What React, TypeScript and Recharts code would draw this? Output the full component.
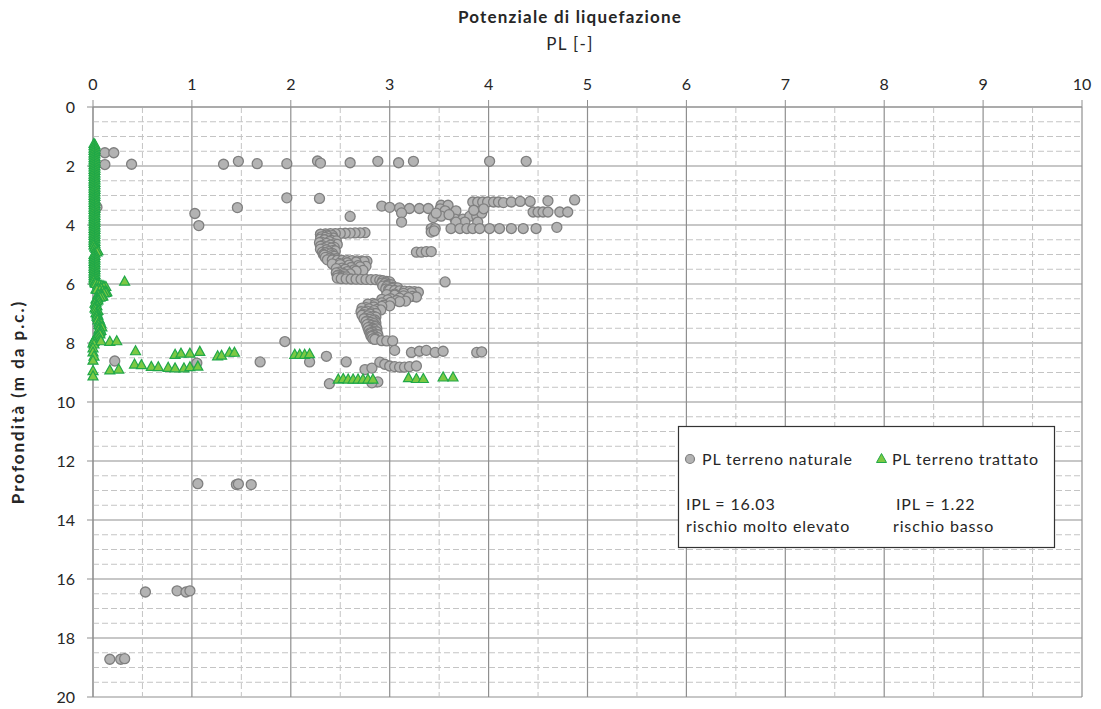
import { ScatterChart, Scatter, XAxis, YAxis, CartesianGrid, ReferenceLine } from 'recharts';

// axis ticks (major = solid grid, minor = dashed grid)
const xTicks = [0, 1, 2, 3, 4, 5, 6, 7, 8, 9, 10];
const yTicks = [0, 2, 4, 6, 8, 10, 12, 14, 16, 18, 20];
const xMinor = [0.5, 1.5, 2.5, 3.5, 4.5, 5.5, 6.5, 7.5, 8.5, 9.5];
const yMinor = [
  0.5, 1, 1.5, 2.5, 3, 3.5, 4.5, 5, 5.5, 6.5, 7, 7.5, 8.5, 9, 9.5, 10.5, 11, 11.5,
  12.5, 13, 13.5, 14.5, 15, 15.5, 16.5, 17, 17.5, 18.5, 19, 19.5,
];

// PL terreno naturale, scattered points: [PL, depth]
const naturale: [number, number][] = [
  [0.12, 1.55], [0.21, 1.55], [0.12, 1.95], [0.39, 1.94], [1.32, 1.94], [1.47, 1.84],
  [1.66, 1.92], [1.96, 1.92], [2.27, 1.83], [2.3, 1.9], [2.6, 1.89], [2.88, 1.84],
  [3.09, 1.89], [3.24, 1.84], [4.01, 1.84], [4.38, 1.84],
  [0.04, 3.4], [1.96, 3.08], [2.29, 3.1], [1.46, 3.41], [1.03, 3.61], [1.07, 4.02], [2.6, 3.71],
  [3.84, 3.22], [3.89, 3.22], [3.94, 3.22], [3.99, 3.22], [4.05, 3.22], [4.1, 3.22],
  [4.15, 3.24], [4.23, 3.22], [4.32, 3.2], [4.42, 3.2], [4.6, 3.18], [4.87, 3.15],
  [2.92, 3.36], [3.0, 3.4], [3.1, 3.42], [3.2, 3.44], [3.3, 3.44], [3.39, 3.44],
  [3.52, 3.33], [3.59, 3.33], [3.12, 3.59], [3.12, 3.9],
  [4.45, 3.56], [4.5, 3.56], [4.55, 3.56], [4.6, 3.56], [4.72, 3.56], [4.8, 3.56],
  [3.51, 3.45], [3.56, 3.52], [3.67, 3.52], [3.44, 3.75], [3.52, 3.7], [3.66, 3.8],
  [3.74, 3.8], [3.81, 3.7], [3.88, 3.7], [3.93, 3.6], [3.89, 3.9], [3.76, 3.9],
  [3.67, 3.9], [3.6, 3.65], [3.47, 3.6], [3.85, 3.5], [3.95, 3.45],
  [3.42, 4.12], [3.46, 4.12], [3.62, 4.12], [3.71, 4.12], [3.78, 4.12], [3.84, 4.12],
  [3.91, 4.12], [4.01, 4.12], [4.11, 4.12], [4.23, 4.12], [4.35, 4.12], [4.48, 4.12],
  [4.69, 4.08], [3.42, 4.24], [3.45, 4.2],
  [3.27, 4.92], [3.32, 4.92], [3.37, 4.9], [3.42, 4.9], [3.56, 5.93],
];

// PL terreno naturale, continuous S-shaped profile 4.3 - 7.9 m: [PL, depth]
const naturaleProfilo: [number, number][] = [
  [2.75, 4.26], [2.7, 4.265], [2.65, 4.27], [2.6, 4.275], [2.55, 4.28], [2.5, 4.285],
  [2.45, 4.29], [2.4, 4.295], [2.35, 4.3], [2.3, 4.31],
  [2.3, 4.32], [2.36, 4.34], [2.42, 4.36], [2.37, 4.38], [2.31, 4.4], [2.35, 4.42],
  [2.43, 4.44], [2.38, 4.46], [2.3, 4.48], [2.34, 4.5], [2.41, 4.52], [2.46, 4.54],
  [2.39, 4.56], [2.31, 4.58], [2.29, 4.6], [2.36, 4.62], [2.44, 4.64], [2.47, 4.66],
  [2.4, 4.68], [2.32, 4.7], [2.3, 4.72], [2.37, 4.74], [2.44, 4.76], [2.41, 4.78],
  [2.33, 4.8], [2.3, 4.82], [2.36, 4.84], [2.43, 4.86], [2.45, 4.88], [2.38, 4.9],
  [2.32, 4.92], [2.35, 4.94], [2.42, 4.96], [2.4, 4.98], [2.33, 5.0], [2.34, 5.02],
  [2.41, 5.04], [2.44, 5.06], [2.38, 5.08], [2.35, 5.1], [2.4, 5.12], [2.46, 5.14],
  [2.42, 5.16], [2.37, 5.18],
  [2.42, 5.19], [2.47, 5.195], [2.52, 5.2], [2.57, 5.205], [2.62, 5.21], [2.67, 5.215],
  [2.72, 5.22], [2.77, 5.225],
  [2.74, 5.24], [2.66, 5.26], [2.57, 5.28], [2.49, 5.3], [2.42, 5.32], [2.5, 5.34],
  [2.59, 5.36], [2.68, 5.38], [2.76, 5.4], [2.7, 5.42], [2.61, 5.44], [2.52, 5.46],
  [2.46, 5.48], [2.55, 5.5], [2.64, 5.52], [2.73, 5.54], [2.66, 5.56], [2.57, 5.58],
  [2.49, 5.6], [2.46, 5.62], [2.53, 5.64], [2.6, 5.66], [2.54, 5.68], [2.48, 5.7],
  [2.47, 5.72], [2.52, 5.74], [2.56, 5.76], [2.5, 5.78], [2.47, 5.8],
  [2.51, 5.82], [2.56, 5.825], [2.61, 5.83], [2.66, 5.835], [2.71, 5.84], [2.76, 5.845],
  [2.81, 5.85], [2.86, 5.855], [2.9, 5.87],
  [2.93, 5.89], [2.97, 5.91], [3.0, 5.93], [2.96, 5.95], [2.92, 5.97], [2.95, 5.99],
  [2.99, 6.01], [3.02, 6.03], [2.97, 6.05], [2.93, 6.07], [2.97, 6.09], [3.03, 6.11],
  [3.08, 6.13], [3.02, 6.15], [2.96, 6.17], [2.99, 6.19],
  [3.0, 6.21], [3.05, 6.22], [3.1, 6.23], [3.15, 6.24], [3.2, 6.25], [3.25, 6.26], [3.29, 6.28],
  [3.22, 6.3], [3.14, 6.32], [3.05, 6.34], [2.97, 6.36], [3.05, 6.38], [3.14, 6.4],
  [3.23, 6.42], [3.27, 6.44], [3.19, 6.46], [3.1, 6.48], [3.01, 6.5], [2.92, 6.52],
  [2.98, 6.54], [3.07, 6.56], [3.16, 6.58], [3.1, 6.6], [3.01, 6.62], [2.92, 6.64],
  [2.83, 6.66], [2.78, 6.68], [2.85, 6.7], [2.94, 6.72], [3.0, 6.74], [2.92, 6.76],
  [2.84, 6.78], [2.76, 6.8], [2.72, 6.82], [2.79, 6.84], [2.87, 6.86], [2.91, 6.88],
  [2.84, 6.9], [2.77, 6.92], [2.71, 6.94], [2.75, 6.96], [2.82, 6.98],
  [2.86, 7.0], [2.8, 7.02], [2.74, 7.04], [2.72, 7.06], [2.78, 7.08], [2.84, 7.1],
  [2.86, 7.12], [2.8, 7.14], [2.75, 7.16], [2.74, 7.18], [2.8, 7.2], [2.85, 7.22],
  [2.83, 7.24], [2.77, 7.26], [2.76, 7.28], [2.81, 7.3], [2.86, 7.32], [2.84, 7.34],
  [2.79, 7.36], [2.77, 7.38], [2.82, 7.4], [2.86, 7.42], [2.85, 7.44], [2.8, 7.46],
  [2.78, 7.48], [2.83, 7.5], [2.87, 7.52], [2.84, 7.54], [2.8, 7.56], [2.79, 7.58],
  [2.84, 7.6], [2.87, 7.62], [2.83, 7.64], [2.8, 7.66], [2.81, 7.68], [2.85, 7.7],
  [2.88, 7.72], [2.84, 7.74], [2.81, 7.76], [2.82, 7.78], [2.86, 7.8], [2.88, 7.82],
  [2.85, 7.84], [2.83, 7.86], [2.85, 7.88],
  [2.92, 7.92], [2.97, 7.93], [3.03, 7.93],
];

// PL terreno naturale, below 7.9 m: [PL, depth]
const naturaleProfondo: [number, number][] = [
  [1.94, 7.95], [2.19, 8.64], [2.36, 8.45], [2.56, 8.64], [2.75, 8.9], [2.82, 8.85],
  [2.39, 9.38], [2.88, 9.32], [2.82, 9.35], [3.05, 8.25], [3.22, 8.32], [3.3, 8.28],
  [3.37, 8.25], [3.46, 8.32], [3.54, 8.28], [2.9, 8.65], [2.95, 8.72], [3.0, 8.78],
  [3.05, 8.8], [3.1, 8.82], [3.15, 8.82], [3.2, 8.8], [3.27, 8.78], [3.88, 8.32],
  [3.93, 8.3], [0.22, 8.61], [1.69, 8.64], [1.05, 8.68],
  [1.06, 12.77], [1.45, 12.8], [1.47, 12.78], [1.6, 12.8],
  [0.53, 16.44], [0.85, 16.4], [0.94, 16.44], [0.98, 16.4],
  [0.17, 18.72], [0.28, 18.72], [0.32, 18.7],
];

// PL terreno trattato, continuous profile near PL = 0: [PL, depth]
const trattatoProfilo: [number, number][] = [
  [0.01, 1.25], [0.02, 1.29], [0.01, 1.33], [0.02, 1.37], [0.01, 1.41], [0.02, 1.45],
  [0.01, 1.49], [0.02, 1.53], [0.01, 1.57], [0.02, 1.61], [0.01, 1.65], [0.02, 1.69],
  [0.01, 1.73], [0.02, 1.77], [0.01, 1.81], [0.02, 1.85], [0.01, 1.89], [0.02, 1.93],
  [0.01, 1.97], [0.02, 2.01], [0.01, 2.05], [0.02, 2.09], [0.01, 2.13], [0.02, 2.17],
  [0.01, 2.21], [0.02, 2.25], [0.01, 2.29], [0.02, 2.33], [0.01, 2.37], [0.02, 2.41],
  [0.01, 2.45], [0.02, 2.49], [0.01, 2.53], [0.02, 2.57], [0.01, 2.61], [0.02, 2.65],
  [0.01, 2.69], [0.02, 2.73], [0.01, 2.77], [0.02, 2.81], [0.01, 2.85], [0.02, 2.89],
  [0.01, 2.93], [0.02, 2.97], [0.01, 3.01], [0.02, 3.05], [0.01, 3.09], [0.02, 3.13],
  [0.01, 3.17], [0.02, 3.21], [0.01, 3.25], [0.02, 3.29], [0.01, 3.33], [0.02, 3.37],
  [0.01, 3.41], [0.02, 3.45], [0.01, 3.49], [0.02, 3.53], [0.01, 3.57], [0.02, 3.61],
  [0.01, 3.65], [0.02, 3.69], [0.01, 3.73], [0.02, 3.77], [0.01, 3.81], [0.02, 3.85],
  [0.01, 3.89], [0.02, 3.93], [0.01, 3.97], [0.02, 4.01], [0.01, 4.05], [0.02, 4.09],
  [0.01, 4.13], [0.02, 4.17], [0.01, 4.21], [0.02, 4.25], [0.01, 4.29], [0.02, 4.33],
  [0.01, 4.37], [0.02, 4.41], [0.01, 4.45], [0.02, 4.49], [0.01, 4.53], [0.02, 4.57],
  [0.01, 4.61], [0.02, 4.65], [0.01, 4.69], [0.02, 4.73], [0.02, 4.77], [0.03, 4.81],
  [0.04, 4.85], [0.05, 4.89], [0.04, 4.93], [0.02, 4.97], [0.01, 5.01], [0.02, 5.05],
  [0.01, 5.09], [0.02, 5.13], [0.01, 5.17], [0.02, 5.21], [0.01, 5.25], [0.02, 5.29],
  [0.01, 5.33], [0.02, 5.37], [0.01, 5.41], [0.02, 5.45], [0.01, 5.49], [0.02, 5.53],
  [0.01, 5.57], [0.02, 5.61], [0.01, 5.65], [0.02, 5.69], [0.01, 5.73], [0.02, 5.77],
  [0.01, 5.81], [0.02, 5.85], [0.01, 5.89], [0.02, 5.93], [0.02, 5.97],
  [0.03, 6.0], [0.05, 6.02], [0.07, 6.04], [0.09, 6.06], [0.11, 6.08], [0.13, 6.1],
  [0.11, 6.12], [0.08, 6.14], [0.05, 6.16], [0.03, 6.18], [0.04, 6.2], [0.07, 6.22],
  [0.1, 6.24], [0.12, 6.26], [0.14, 6.28], [0.13, 6.3], [0.11, 6.32], [0.08, 6.34],
  [0.05, 6.36], [0.06, 6.38], [0.08, 6.4], [0.1, 6.42], [0.09, 6.44], [0.07, 6.46],
  [0.05, 6.48], [0.04, 6.5], [0.03, 6.52], [0.04, 6.54], [0.05, 6.56],
  [0.04, 6.59], [0.03, 6.63], [0.02, 6.67], [0.03, 6.71], [0.04, 6.75], [0.03, 6.79],
  [0.02, 6.83], [0.03, 6.87], [0.05, 6.91], [0.04, 6.95], [0.03, 6.99], [0.04, 7.03],
  [0.05, 7.07], [0.04, 7.11], [0.05, 7.15], [0.06, 7.19],
  [0.05, 7.23], [0.07, 7.27], [0.06, 7.31], [0.08, 7.35], [0.06, 7.39], [0.07, 7.43],
  [0.09, 7.47], [0.07, 7.51], [0.06, 7.55], [0.08, 7.59], [0.07, 7.63], [0.06, 7.67],
  [0.07, 7.71], [0.05, 7.75], [0.04, 7.79], [0.03, 7.83], [0.02, 7.87],
  [0.01, 7.91], [0.01, 7.96], [0.0, 8.01], [0.01, 8.05],
  [0.0, 8.18], [0.0, 8.32], [0.01, 8.46], [0.0, 8.6], [0.0, 8.95], [0.0, 9.13],
];

// PL terreno trattato, scattered points: [PL, depth]
const trattato: [number, number][] = [
  [0.32, 5.92], [0.08, 7.94], [0.17, 7.96], [0.24, 7.94],
  [0.43, 8.28], [0.42, 8.73], [0.49, 8.75], [0.17, 8.93], [0.26, 8.9], [0.59, 8.81],
  [0.66, 8.82], [0.76, 8.84], [0.83, 8.86], [0.92, 8.86], [0.98, 8.82], [1.06, 8.8],
  [0.83, 8.4], [0.89, 8.36], [0.98, 8.36], [1.08, 8.3], [1.26, 8.45], [1.3, 8.43],
  [1.38, 8.33], [1.43, 8.33], [2.04, 8.4], [2.09, 8.4], [2.14, 8.4], [2.19, 8.38],
  [2.48, 9.24], [2.53, 9.22], [2.58, 9.24], [2.63, 9.24], [2.68, 9.24], [2.73, 9.24],
  [2.78, 9.24], [2.83, 9.24], [3.19, 9.19], [3.27, 9.22], [3.34, 9.22], [3.54, 9.17],
  [3.64, 9.17],
];

const FONT = 'Lato, "Open Sans", sans-serif';
const TEXT = '#262626';
const GRID = '#8f8f8f';

const toPoints = (rows: [number, number][]) => rows.map(([pl, z]) => ({ pl, z }));

const naturaleData = toPoints([...naturale, ...naturaleProfilo, ...naturaleProfondo]);
const trattatoData = toPoints([...trattatoProfilo, ...trattato]);

const Circle = (props: any) => (
  <circle cx={props.cx} cy={props.cy} r={5} fill="#b3b3b3" stroke="#7f7f7f" strokeWidth={1.3} />
);

const Triangle = (props: any) => {
  const { cx, cy } = props;
  return (
    <polygon
      points={`${cx},${cy - 5.5} ${cx - 5},${cy + 3.5} ${cx + 5},${cy + 3.5}`}
      fill="#7cc943"
      stroke="#20a848"
      strokeWidth={1.2}
    />
  );
};

export default function App() {
  return (
    <div style={{ position: 'absolute', left: 0, top: 0, width: 1101, height: 709, background: '#fff' }}>
      <ScatterChart width={1101} height={709} margin={{ top: 67, right: 19, bottom: 12, left: 33 }}>
        <CartesianGrid stroke={GRID} strokeWidth={1.2} />
        {xMinor.map((v) => (
          <ReferenceLine key={`vx${v}`} x={v} stroke="#c4c4c4" strokeDasharray="6 3" />
        ))}
        {yMinor.map((v) => (
          <ReferenceLine key={`hy${v}`} y={v} stroke="#c4c4c4" strokeDasharray="6 3" />
        ))}
        <XAxis
          type="number"
          dataKey="pl"
          orientation="top"
          domain={[0, 10]}
          ticks={xTicks}
          height={40}
          tickSize={7}
          tickMargin={10}
          stroke={GRID}
          tick={{ fill: TEXT, fontSize: 16, fontFamily: FONT }}
        />
        <YAxis
          type="number"
          dataKey="z"
          reversed
          domain={[0, 20]}
          ticks={yTicks}
          width={60}
          tickSize={6}
          tickMargin={12}
          stroke={GRID}
          tick={{ fill: TEXT, fontSize: 16, fontFamily: FONT }}
        />
        <Scatter data={naturaleData} shape={Circle} isAnimationActive={false} />
        <Scatter data={trattatoData} shape={Triangle} isAnimationActive={false} />
      </ScatterChart>

      <svg
        width={1101}
        height={709}
        style={{ position: 'absolute', left: 0, top: 0, pointerEvents: 'none' }}
        fontFamily={FONT}
        fill={TEXT}
      >
        <text x={570} y={23} textAnchor="middle" fontSize={17} fontWeight="bold" letterSpacing={1.2}>
          Potenziale di liquefazione
        </text>
        <text x={570} y={50} textAnchor="middle" fontSize={17} letterSpacing={1.3}>
          PL [-]
        </text>
        <text
          x={24}
          y={402}
          textAnchor="middle"
          fontSize={17}
          fontWeight="bold"
          letterSpacing={2}
          transform="rotate(-90 24 402)"
        >
          Profondità (m da p.c.)
        </text>

        <rect x={678.5} y={426.5} width={376} height={121} fill="#fff" stroke="#333" strokeWidth={1.2} />
        <circle cx={690} cy={459} r={4.5} fill="#b3b3b3" stroke="#7f7f7f" strokeWidth={1.2} />
        <text x={702} y={465} fontSize={16} letterSpacing={0.85}>PL terreno naturale</text>
        <polygon points="881.5,453.5 876.5,462.5 886.5,462.5" fill="#7cc943" stroke="#20a848" strokeWidth={1} />
        <text x={892} y={465} fontSize={16} letterSpacing={0.85}>PL terreno trattato</text>
        <text x={686} y={510} fontSize={16} letterSpacing={0.85}>IPL = 16.03</text>
        <text x={686} y={532} fontSize={16} letterSpacing={0.85}>rischio molto elevato</text>
        <text x={896} y={510} fontSize={16} letterSpacing={0.85}>IPL = 1.22</text>
        <text x={893} y={532} fontSize={16} letterSpacing={0.85}>rischio basso</text>
      </svg>
    </div>
  );
}
